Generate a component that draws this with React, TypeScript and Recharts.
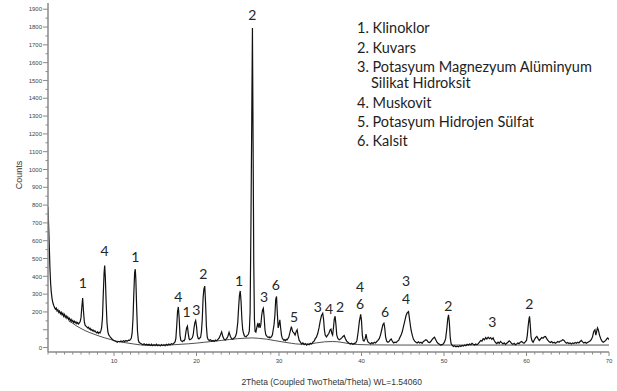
import React from 'react';
import { LineChart, Line, XAxis, YAxis, ReferenceDot } from 'recharts';

// 2Theta (deg), Counts
const scanLow: [number, number][] = [
  [2.00,790],[2.08,680],[2.16,560],[2.24,440],[2.32,360],[2.40,310],[2.50,272],[2.60,250],[2.70,236],[2.80,224],[2.90,216],[3.00,222],[3.10,206],[3.20,212],[3.30,198],[3.40,205],[3.50,190],[3.60,198],[3.70,184],[3.80,192],[3.90,176],[4.00,186],[4.10,170],[4.20,178],[4.30,164],[4.40,172],[4.50,158],[4.60,164],[4.70,150],[4.80,158],[4.90,146],[5.00,152],[5.10,140],[5.20,148],[5.30,138],[5.40,144],[5.50,134],[5.60,140],[5.70,132],[5.80,138],[5.90,146],[6.00,168],[6.10,228],[6.20,278],[6.30,205],[6.40,146],[6.50,126],[6.60,120],[6.70,116],[6.80,110],[6.90,114],[7.00,104],[7.10,108],[7.20,98],[7.30,102],[7.40,94],[7.50,98],[7.60,90],[7.70,94],[7.80,86],[7.90,82],[8.00,88],[8.10,80],[8.20,86],[8.30,82],[8.40,92],[8.50,112],[8.60,165],[8.70,300],[8.80,420],[8.87,460],[8.95,395],[9.05,250],[9.15,140],[9.25,90],[9.35,72],[9.45,66],[9.55,58],[9.65,54],[9.75,48],[9.85,44],[9.95,40],[10.10,37],[10.25,34],[10.40,30],[10.55,35],[10.70,32],[10.85,37],[11.00,33],[11.15,38],[11.30,34],[11.45,40],[11.60,35],[11.75,42],[11.90,40],[12.00,46],[12.10,54],[12.20,82],[12.30,160],[12.40,300],[12.50,420],[12.58,440],[12.65,380],[12.75,220],[12.85,90],[12.95,42],[13.05,28],[13.20,24],[13.35,20],[13.50,16],[13.65,21],[13.80,15],[13.95,19],[14.10,14],[14.25,18],[14.40,12],[14.55,19],[14.70,11],[14.85,17],[15.00,12],[15.15,19],[15.30,11],[15.45,16],[15.60,9],[15.75,17],[15.90,11],[16.05,16],[16.20,10],[16.35,18],[16.50,13],[16.65,20],[16.80,15],[16.95,22],[17.10,18],[17.25,24],[17.40,32],
];

const scanMid: [number, number][] = [
  [17.50,52],[17.60,120],[17.70,200],[17.80,228],[17.90,165],[18.00,70],[18.10,40],[18.20,36],[18.30,33],[18.40,40],[18.50,38],[18.60,48],[18.70,82],[18.80,110],[18.90,120],[19.00,80],[19.10,50],[19.20,44],[19.30,46],[19.40,50],[19.50,56],[19.60,72],[19.70,110],[19.80,140],[19.90,152],[20.00,120],[20.10,68],[20.20,52],[20.30,48],[20.40,54],[20.50,58],[20.60,90],[20.70,160],[20.80,280],[20.90,330],[21.00,345],[21.10,250],[21.20,120],[21.30,60],[21.40,46],[21.55,40],[21.70,44],[21.85,36],[22.00,40],[22.15,34],[22.30,42],[22.45,38],[22.60,46],[22.75,54],[22.90,70],[23.05,88],[23.20,60],[23.35,46],[23.50,42],[23.65,50],[23.80,62],[23.95,86],[24.10,64],[24.25,50],[24.40,46],[24.55,54],[24.70,60],[24.85,80],[25.00,140],[25.10,220],[25.20,290],[25.30,318],[25.40,260],[25.50,160],[25.60,100],[25.70,80],[25.80,66],[25.90,62],[26.00,60],[26.10,66],[26.20,70],[26.30,76],[26.40,92],[26.50,200],[26.60,700],[26.70,1300],[26.78,1795],[26.86,1150],[26.94,480],[27.02,160],[27.10,90],[27.20,86],[27.30,110],[27.40,130],[27.50,118],[27.60,138],[27.70,110],[27.80,130],[27.90,180],[28.00,210],[28.10,220],[28.20,170],[28.30,100],[28.40,72],[28.50,66],[28.60,60],[28.70,56],[28.80,60],[28.90,54],[29.00,58],[29.10,62],[29.20,72],[29.30,100],[29.40,130],[29.50,180],[29.60,270],[29.70,287],[29.80,190],[29.90,110],[30.00,130],[30.10,156],[30.20,110],[30.30,70],[30.40,52],[30.50,46],[30.60,40],[30.70,44],[30.80,38],[30.90,46],[31.00,44],[31.20,60],[31.35,90],[31.50,118],[31.65,90],[31.80,82],[31.95,70],[32.10,92],[32.20,100],[32.30,70],[32.45,40],[32.60,30],[32.75,20],[32.90,26],[33.05,16],[33.20,22],[33.35,14],[33.50,20],[33.65,16],[33.80,24],[33.95,20],[34.10,30],[34.25,36],[34.40,50],[34.55,60],[34.70,80],[34.85,110],[35.00,150],[35.15,180],[35.30,192],[35.40,160],[35.50,100],[35.60,70],[35.75,60],[35.90,70],[36.05,80],[36.20,100],[36.30,104],[36.40,80],[36.50,70],[36.60,110],[36.70,160],[36.80,176],[36.90,130],[37.00,70],[37.15,50],[37.30,44],[37.45,48],[37.60,54],[37.75,62],[37.90,68],[38.05,50],
];

const scanHigh: [number, number][] = [
  [38.20,36],[38.35,30],[38.50,24],[38.65,20],[38.80,24],[38.95,18],[39.10,22],[39.30,26],[39.45,40],[39.60,90],[39.75,150],[39.90,186],[40.00,150],[40.10,70],[40.20,40],[40.30,36],[40.45,50],[40.55,76],[40.65,50],[40.80,30],[40.95,26],[41.10,20],[41.25,28],[41.40,22],[41.55,30],[41.70,26],[41.85,34],[42.00,40],[42.15,50],[42.30,70],[42.45,100],[42.60,130],[42.72,137],[42.82,110],[42.92,60],[43.05,36],[43.20,30],[43.35,34],[43.50,44],[43.60,48],[43.75,34],[43.90,26],[44.05,30],[44.20,28],[44.35,36],[44.50,40],[44.65,56],[44.80,70],[44.95,90],[45.10,120],[45.25,150],[45.40,180],[45.55,196],[45.70,202],[45.85,150],[46.00,100],[46.15,70],[46.30,46],[46.45,36],[46.60,30],[46.75,26],[46.90,32],[47.05,26],[47.20,30],[47.35,24],[47.50,34],[47.65,38],[47.80,44],[47.95,40],[48.10,30],[48.25,28],[48.40,34],[48.55,44],[48.70,52],[48.85,58],[49.00,44],[49.15,30],[49.30,22],[49.45,18],[49.60,14],[49.75,16],[49.90,20],[50.05,30],[50.20,50],[50.35,110],[50.45,160],[50.55,184],[50.65,140],[50.75,60],[50.85,24],[51.00,12],[51.15,6],[51.30,10],[51.45,4],[51.60,8],[51.75,4],[51.90,10],[52.05,6],[52.20,12],[52.35,8],[52.50,14],[52.65,10],[52.80,18],[52.95,14],[53.10,20],[53.25,16],[53.40,24],[53.55,18],[53.70,14],[53.85,20],[54.00,16],[54.15,22],[54.30,30],[54.45,40],[54.60,36],[54.75,50],[54.90,44],[55.05,56],[55.20,48],[55.35,58],[55.50,50],[55.65,56],[55.80,46],[55.95,54],[56.10,38],[56.25,28],[56.40,22],[56.55,30],[56.70,24],[56.85,34],[57.00,28],[57.15,20],[57.30,26],[57.45,18],[57.60,24],[57.75,30],[57.90,38],[58.05,32],[58.20,22],[58.35,18],[58.50,24],[58.65,16],[58.80,20],[58.95,26],[59.10,22],[59.25,30],[59.40,34],[59.55,28],[59.70,24],[59.85,32],[60.00,40],[60.10,70],[60.20,120],[60.30,160],[60.37,175],[60.45,130],[60.55,60],[60.65,40],[60.80,30],[60.95,44],[61.10,56],[61.25,62],[61.40,50],[61.55,40],[61.70,48],[61.85,56],[62.00,52],[62.15,60],[62.30,62],[62.45,50],[62.60,40],[62.75,32],[62.90,28],[63.05,34],[63.20,26],[63.35,30],[63.50,24],[63.65,28],[63.80,34],[63.95,30],[64.10,36],[64.25,38],[64.40,44],[64.55,40],[64.70,30],[64.85,24],[65.00,28],[65.15,22],[65.30,26],[65.45,20],[65.60,26],[65.75,22],[65.90,28],[66.05,24],[66.20,30],[66.35,26],[66.50,34],[66.65,40],[66.80,32],[66.95,26],[67.10,30],[67.25,24],[67.40,28],[67.55,32],[67.70,36],[67.85,44],[68.00,60],[68.15,90],[68.30,100],[68.40,70],[68.50,90],[68.60,110],[68.70,100],[68.85,70],[69.00,50],[69.15,36],[69.30,30],[69.45,34],[69.60,40],[69.75,50],[69.85,54],[70.00,44],
];

const backgroundCurve: [number, number][] = [
  [4.5,150],[5.0,136],[5.5,120],[6.0,107],[6.5,95],[7.0,85],[7.7,73],[8.3,63],[8.9,54],[9.6,45],[10.3,36],[11.0,30],[11.7,25],[12.4,20],[13.2,15],[14.0,12],[15.0,11],[16.0,13],[17.0,15],[18.0,18],[19.0,21],[20.0,25],[21.0,30],[22.0,35],[23.0,40],[24.0,45],[25.0,50],[26.0,53],[26.8,54],[27.5,52],[28.5,47],[29.5,39],[30.5,31],[31.5,24],[32.5,19],[33.5,19],[34.5,26],[35.5,32],[36.5,34],[37.5,30],[38.5,22],[39.5,17],[41.0,15],[45.0,14],[50.0,14],[55.0,14],[60.0,14],[65.0,14],[70.0,14],
];

// phase number, 2Theta anchor, Counts anchor
const peakLabels: [string, number, number][] = [
  ['1',6.21,361],['4',8.87,541],['1',12.58,507],['4',17.79,282],['1',18.81,201],['3',19.98,211],
  ['2',20.82,413],['1',25.15,375],['2',26.76,1868],['3',28.18,282],['6',29.6,351],['5',31.84,173],
  ['3',34.7,229],['4',36.06,215],['2',37.39,229],['4',39.82,340],['6',39.82,245],['6',42.85,201],
  ['3',45.39,374],['4',45.39,275],['2',50.52,233],['3',55.85,145],['2',60.34,245],
];

const phaseLegend: string[] = [
  '1. Klinoklor',
  '2. Kuvars',
  '3. Potasyum Magnezyum Alüminyum',
  'Silikat Hidroksit',
  '4. Muskovit',
  '5. Potasyum Hidrojen Sülfat',
  '6. Kalsit',
];

const xMajorTicks: number[] = [10, 20, 30, 40, 50, 60, 70];
const yMajorTicks: number[] = [0, 200, 300, 400, 500, 600, 700, 800, 900, 1000, 1100, 1200, 1300, 1400, 1500, 1600, 1700, 1800, 1900];

const xTicks: number[] = [];
for (let v = 2; v <= 70; v += 1) xTicks.push(v);
const yTicks: number[] = [];
for (let v = 0; v <= 1900; v += 50) yTicks.push(v);

const toRows = (a: [number, number][]) => a.map(([t, c]) => ({ t, c }));
const scanData = [...toRows(scanLow), ...toRows(scanMid), ...toRows(scanHigh)];
const bgData = toRows(backgroundCurve);

const AXIS = '#8a8a8a';
const TICKFONT = 'Liberation Sans, Arial, sans-serif';
const LABELFONT = 'Lato, "Open Sans", sans-serif';

const XTick = (props: any) => {
  const { x, y, payload } = props;
  const v = payload.value;
  const major = xMajorTicks.includes(v);
  return (
    <g>
      <line x1={x} x2={x} y1={y} y2={y + (major ? 4 : 2.5)} stroke={AXIS} strokeWidth={1} />
      {major && (
        <text x={x} y={y + 11} textAnchor="middle" fontSize={6} fill="#444" fontFamily={TICKFONT}>{v}</text>
      )}
    </g>
  );
};

const YTick = (props: any) => {
  const { x, y, payload } = props;
  const v = payload.value;
  const isHundred = v % 100 === 0;
  const showLabel = yMajorTicks.includes(v);
  return (
    <g>
      <line x1={x - (isHundred ? 5 : 2.5)} x2={x} y1={y} y2={y} stroke={AXIS} strokeWidth={1} />
      {showLabel && (
        <text x={x - 6} y={y + 2.2} textAnchor="end" fontSize={6} fill="#444" fontFamily={TICKFONT}>{v}</text>
      )}
    </g>
  );
};

const legendBaselines = [33, 52.5, 71.5, 87.5, 107.5, 126.5, 145.5];

export default function App() {
  return (
    <div style={{ position: 'absolute', left: 0, top: 0, width: 617, height: 391, background: '#fff' }}>
      <LineChart width={617} height={391} data={scanData} margin={{ top: 3, right: 8, bottom: 0, left: 0 }}>
        <XAxis
          dataKey="t"
          type="number"
          domain={[2, 70]}
          ticks={xTicks}
          interval={0}
          tick={<XTick />}
          tickLine={false}
          tickSize={0}
          tickMargin={0}
          height={39}
          axisLine={{ stroke: AXIS, strokeWidth: 1.5 }}
          allowDataOverflow
        />
        <YAxis
          type="number"
          domain={[-25, 1935]}
          ticks={yTicks}
          interval={0}
          tick={<YTick />}
          tickLine={false}
          tickSize={0}
          tickMargin={0}
          width={48}
          axisLine={{ stroke: AXIS, strokeWidth: 1.5 }}
          allowDataOverflow
        />
        <Line data={bgData} dataKey="c" type="monotone" stroke="#222" strokeWidth={0.8} dot={false} isAnimationActive={false} />
        <Line dataKey="c" type="linear" stroke="#111" strokeWidth={1.2} dot={false} isAnimationActive={false} />
        {peakLabels.map(([label, t, c], i) => (
          <ReferenceDot
            key={i}
            x={t}
            y={c}
            r={0}
            ifOverflow="visible"
            shape={(p: any) => (
              <text x={p.cx} y={p.cy + 5} textAnchor="middle" fontSize={14} fill="#262626" fontFamily={LABELFONT}>{label}</text>
            )}
          />
        ))}
      </LineChart>
      <svg width={617} height={391} style={{ position: 'absolute', left: 0, top: 0, pointerEvents: 'none' }}>
        {phaseLegend.map((s, i) => (
          <text key={i} x={i === 3 ? 371 : 357} y={legendBaselines[i]} fontSize={14.5} fill="#1e1e1e" fontFamily={LABELFONT}>{s}</text>
        ))}
        <text x={331.7} y={385} textAnchor="middle" fontSize={8.5} fill="#333" fontFamily={TICKFONT}>2Theta (Coupled TwoTheta/Theta) WL=1.54060</text>
        <text x={22} y={175} textAnchor="middle" fontSize={9} fill="#333" fontFamily={TICKFONT} transform="rotate(-90 22 175)">Counts</text>
      </svg>
    </div>
  );
}
